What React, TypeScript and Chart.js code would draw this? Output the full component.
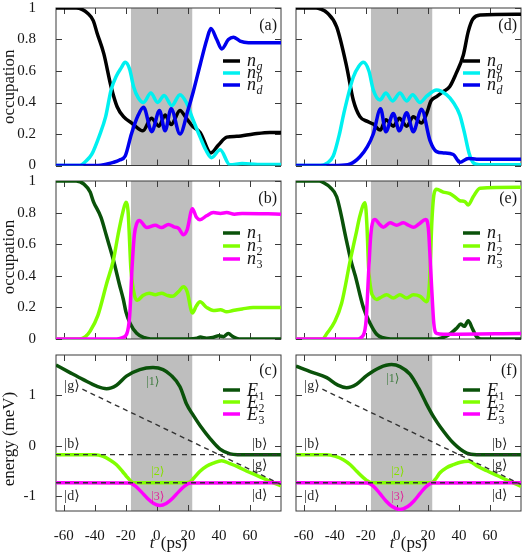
import { useEffect, useRef } from 'react';
import { Chart, registerables } from 'chart.js';

Chart.register(...registerables);

// ---------------------------------------------------------------- axes
const T_MIN = -65;
const T_MAX = 80;
const TIME_TICKS = [-60, -40, -20, 0, 20, 40, 60];
const OCC_TICKS = [0, 0.2, 0.4, 0.6, 0.8, 1];
const ENERGY_TICKS = [-1, 0, 1];
const ENERGY_RANGE = [-1.3, 1.8];
const PULSE_WINDOW = [-16.7, 22.8];

// ---------------------------------------------------------------- (a) occupations, bare states
const aNgT = [-65, -52, -48, -45, -41, -38.5, -34.2, -29.5, -25.6, -21.5, -16, -9, -3.5, 1.3, 5.3, 9.2, 14.9, 19, 22.9, 27.9, 34.8, 39.7, 45.1, 51.5, 62.2, 72.9, 80];
const aNgV = [1, 1, 0.99, 0.97, 0.92, 0.84, 0.71, 0.5, 0.373, 0.31, 0.268, 0.22, 0.3, 0.25, 0.32, 0.26, 0.35, 0.3, 0.25, 0.21, 0.08, 0.13, 0.18, 0.185, 0.2, 0.21, 0.21];
const aNbT = [-65, -50, -46, -42, -37, -33, -29.5, -26, -23, -20.4, -17.5, -15, -12, -8.6, -3.9, 0.5, 4.7, 9.6, 14.9, 19, 22.9, 27.9, 31.5, 35.2, 40.8, 47, 55, 65, 80];
const aNbV = [0, 0, 0.025, 0.07, 0.19, 0.31, 0.48, 0.57, 0.62, 0.655, 0.61, 0.5, 0.43, 0.4, 0.46, 0.4, 0.445, 0.38, 0.45, 0.4, 0.3, 0.18, 0.1, 0.05, 0.1, 0.005, 0.012, 0.006, 0.006];
const aNdT = [-65, -38, -32, -28, -24, -20.4, -16.4, -12, -8.6, -3.3, 1.7, 5.3, 9.2, 14.9, 20, 23.5, 27.9, 32.2, 34.8, 38.6, 41.8, 46.1, 49.3, 53.6, 59, 70, 80];
const aNdV = [0, 0, 0.01, 0.02, 0.035, 0.06, 0.2, 0.32, 0.37, 0.215, 0.35, 0.22, 0.36, 0.2, 0.35, 0.47, 0.64, 0.8, 0.87, 0.8, 0.74, 0.8, 0.815, 0.79, 0.78, 0.78, 0.78];

// ---------------------------------------------------------------- (b) occupations, dressed states
const bN1T = [-65, -52, -47, -43, -40.9, -36, -32.4, -28, -24, -21.6, -19.9, -17.3, -13, -8, -4, 20, 26, 28, 32, 36, 40, 43, 46, 49, 53, 80];
const bN1V = [1, 1, 0.98, 0.93, 0.87, 0.77, 0.65, 0.5, 0.34, 0.25, 0.17, 0.1, 0.036, 0.008, 0, 0, 0.005, 0.012, 0.005, 0.01, 0.02, 0.015, 0.035, 0.015, 0, 0];
const bN2T = [-65, -50, -46, -43, -38, -32.4, -28, -25, -22, -19.9, -18.5, -16.7, -14.5, -12.6, -9, -5, -1, 3, 7, 10, 14, 17.1, 19.5, 22.9, 25.5, 27.8, 32, 36.4, 41, 45, 49, 55, 62, 80];
const bN2V = [0, 0, 0.015, 0.05, 0.15, 0.35, 0.5, 0.66, 0.8, 0.865, 0.8, 0.44, 0.28, 0.245, 0.275, 0.29, 0.28, 0.29, 0.275, 0.27, 0.3, 0.33, 0.3, 0.165, 0.21, 0.235, 0.2, 0.18, 0.185, 0.172, 0.18, 0.19, 0.2, 0.2];
const bN3T = [-65, -26, -22, -19.5, -17.5, -16, -14.5, -13, -11.3, -6.5, -1, 3, 7.5, 11, 14, 17.1, 19.5, 22.9, 25.5, 27.8, 32, 36.4, 41, 45, 50, 55, 80];
const bN3V = [0, 0, 0.01, 0.03, 0.15, 0.45, 0.66, 0.73, 0.75, 0.705, 0.72, 0.705, 0.725, 0.71, 0.7, 0.66, 0.69, 0.825, 0.77, 0.755, 0.78, 0.8, 0.795, 0.8, 0.79, 0.795, 0.79];

// ---------------------------------------------------------------- (c) energies
const cE1T = [-65, -56, -47.4, -38.8, -32.4, -26, -19.6, -11, -2.5, 4, 9, 14.9, 19.2, 23.5, 27.8, 34.3, 40.7, 47.2, 52, 80];
const cE1V = [1.6, 1.45, 1.31, 1.18, 1.13, 1.2, 1.38, 1.51, 1.55, 1.51, 1.4, 1.17, 0.82, 0.6, 0.4, 0.14, -0.07, -0.165, -0.18, -0.18];
const cE2T = [-65, -40, -35, -30, -26, -22, -19.6, -17, -15, 19.2, 21.5, 24, 27.8, 32, 36.4, 41.7, 47.2, 52, 58, 65, 72, 80];
const cE2V = [-0.18, -0.18, -0.21, -0.29, -0.38, -0.52, -0.61, -0.7, -0.74, -0.74, -0.72, -0.64, -0.51, -0.41, -0.35, -0.3, -0.36, -0.42, -0.51, -0.6, -0.7, -0.8];
const cE3T = [-65, -18, -14, -10, -6, -2, 2, 6, 10, 14, 18, 22, 80];
const cE3V = [-0.74, -0.745, -0.8, -0.92, -1.05, -1.15, -1.19, -1.15, -1.05, -0.92, -0.8, -0.745, -0.74];

// ---------------------------------------------------------------- (d) occupations, bare states
const dNgT = [-65, -52, -49.5, -45, -38.8, -32.4, -28.1, -23.8, -19, -15.2, -10.7, -7.1, -2.3, 1.6, 6.3, 10.6, 15.9, 19.2, 22, 26, 30, 34, 38, 42.8, 46, 49, 54, 80];
const dNgV = [1, 1, 0.995, 0.97, 0.88, 0.63, 0.416, 0.31, 0.28, 0.263, 0.225, 0.29, 0.25, 0.3, 0.25, 0.31, 0.27, 0.33, 0.41, 0.44, 0.47, 0.5, 0.58, 0.7, 0.85, 0.93, 0.955, 0.96];
const dNbT = [-65, -49, -45, -41, -37, -34.2, -28.1, -24.5, -21.6, -18, -15.2, -10.9, -7.1, -2.8, 2, 6.3, 10.2, 14.9, 19.2, 25.6, 32, 36.4, 40.6, 43.5, 46.5, 49.5, 53, 80];
const dNbV = [0, 0, 0.015, 0.06, 0.2, 0.33, 0.56, 0.63, 0.655, 0.6, 0.48, 0.416, 0.46, 0.41, 0.46, 0.41, 0.45, 0.4, 0.44, 0.48, 0.45, 0.4, 0.32, 0.21, 0.08, 0.015, 0.005, 0.005];
const dNdT = [-65, -38, -30, -23.8, -19, -15.2, -10.5, -7.1, -2.3, 1.6, 6.3, 10.6, 15.9, 21.3, 25.6, 30, 36.4, 40.6, 46, 51.4, 80];
const dNdV = [0, 0, 0.01, 0.056, 0.12, 0.2, 0.36, 0.215, 0.33, 0.22, 0.335, 0.215, 0.357, 0.16, 0.088, 0.08, 0.07, 0.02, 0.045, 0.04, 0.04];

// ---------------------------------------------------------------- (e) occupations, dressed states
const eN1T = [-65, -50, -47.4, -43, -38.8, -32.4, -29.7, -26.8, -21.6, -17.3, -13, -9, -4, 26, 30, 34, 38.5, 41.2, 43.5, 46, 48.5, 51, 54, 80];
const eN1V = [1, 1, 0.99, 0.96, 0.9, 0.62, 0.5, 0.4, 0.2, 0.1, 0.03, 0.008, 0, 0, 0.01, 0.03, 0.068, 0.095, 0.08, 0.116, 0.07, 0.02, 0, 0];
const eN2T = [-65, -48, -45, -40, -35.6, -30, -26, -23.8, -20.5, -19.3, -18.2, -16.5, -15, -13, -10.9, -6.6, -2.3, 2, 6.3, 10.6, 15, 19.2, 21, 22.6, 24, 25.6, 29.9, 34.2, 38.5, 40.6, 43.8, 46, 49.2, 53.6, 80];
const eN2V = [0, 0, 0.036, 0.11, 0.226, 0.5, 0.68, 0.78, 0.863, 0.72, 0.45, 0.3, 0.265, 0.25, 0.26, 0.28, 0.26, 0.28, 0.26, 0.28, 0.27, 0.236, 0.35, 0.75, 0.92, 0.947, 0.93, 0.92, 0.89, 0.875, 0.87, 0.848, 0.9, 0.954, 0.96];
const eN3T = [-65, -26, -21.6, -19.8, -18.2, -16.8, -14.1, -11.5, -8.7, -4.4, -0.1, 4.2, 7.5, 10.6, 14.5, 18.5, 20.3, 21.5, 22.4, 23.8, 25.6, 30, 80];
const eN3V = [0, 0, 0.025, 0.12, 0.42, 0.66, 0.757, 0.73, 0.707, 0.735, 0.72, 0.735, 0.72, 0.707, 0.73, 0.757, 0.7, 0.5, 0.33, 0.1, 0.036, 0.03, 0.035];

// ---------------------------------------------------------------- (f) energies
const fE1T = [-65, -55, -45.2, -38, -32.4, -26, -19.5, -11, -3.4, 2, 8.4, 14, 19.2, 23.5, 27.8, 36.4, 45, 51.4, 80];
const fE1V = [1.58, 1.46, 1.35, 1.2, 1.15, 1.22, 1.39, 1.55, 1.61, 1.57, 1.42, 1.14, 0.82, 0.58, 0.38, 0.05, -0.15, -0.18, -0.18];
const fE2T = [-65, -45.2, -40, -34.5, -30, -25.9, -19.5, -16.3, 22.4, 25, 27.8, 32, 36.4, 41, 46, 49, 52, 58, 65, 72, 80];
const fE2V = [-0.18, -0.18, -0.21, -0.28, -0.38, -0.51, -0.69, -0.74, -0.74, -0.66, -0.54, -0.44, -0.38, -0.33, -0.31, -0.35, -0.41, -0.5, -0.6, -0.7, -0.81];
const fE3T = [-65, -19, -15, -11, -7, -3, 2, 7, 11, 15, 19, 23, 80];
const fE3V = [-0.74, -0.745, -0.81, -0.95, -1.1, -1.21, -1.27, -1.21, -1.1, -0.95, -0.81, -0.745, -0.74];

// ---------------------------------------------------------------- bare-state reference levels (meV)
const LEVEL_B = -0.18;
const LEVEL_D = -0.74;
const LEVEL_G_T = [-48, 80];
const LEVEL_G_E = [1.12, -0.77];

// ---------------------------------------------------------------- styling
const W = 523;
const H = 555;
const SERIF = '"Liberation Serif", "DejaVu Serif", serif';
const TEXT = '#161616';
const FRAME = '#3a3a3a';
const BAND = '#bebebe';
const TICK_LEN = 6;
const Y_AXIS_W = 56;
const COL_X = [[56, 281], [296, 521]];
const ROW_Y = [[8, 165.5], [181, 339], [355, 511]];
const LINE_W = 3.5;

const C_G = '#000000';
const C_B = '#00f0f0';
const C_D = '#0000ee';
const C_1 = '#0a520a';
const C_2 = '#80ff00';
const C_3 = '#ff00ff';
const C_DASH = '#333333';

type Series = { t: number[]; v: number[]; color: string; dash?: number[]; width?: number };
type LegendItem = { main: string; sub: string; subItalic: boolean; color: string };
type Ket = { text: string; t: number; e: number; color: string; size: number };
type Panel = {
  col: number;
  row: number;
  tag: string;
  yRange: number[];
  yTicks: number[];
  series: Series[];
  legend: LegendItem[];
  legendTop: number;
  legendGap: number;
  tagOffset: number;
  yTitle?: string;
  yTitleShift?: number;
  kets?: Ket[];
};

const occLegendBare: LegendItem[] = [
  { main: 'n', sub: 'g', subItalic: true, color: C_G },
  { main: 'n', sub: 'b', subItalic: true, color: C_B },
  { main: 'n', sub: 'd', subItalic: true, color: C_D },
];
const occLegendDressed: LegendItem[] = [
  { main: 'n', sub: '1', subItalic: false, color: C_1 },
  { main: 'n', sub: '2', subItalic: false, color: C_2 },
  { main: 'n', sub: '3', subItalic: false, color: C_3 },
];
const energyLegend: LegendItem[] = [
  { main: 'E', sub: '1', subItalic: false, color: C_1 },
  { main: 'E', sub: '2', subItalic: false, color: C_2 },
  { main: 'E', sub: '3', subItalic: false, color: C_3 },
];

function levelSeries(): Series[] {
  return [
    { t: [T_MIN, T_MAX], v: [LEVEL_B, LEVEL_B], color: C_DASH, dash: [5, 4], width: 1.4 },
    { t: [T_MIN, T_MAX], v: [LEVEL_D, LEVEL_D], color: C_DASH, dash: [5, 4], width: 1.4 },
    { t: LEVEL_G_T, v: LEVEL_G_E, color: C_DASH, dash: [5, 4], width: 1.4 },
  ];
}

function kets(e1Label: number): Ket[] {
  const grey = '#2a2a2a';
  return [
    { text: '|g\u27E9', t: -54.7, e: 1.17, color: grey, size: 14 },
    { text: '|b\u27E9', t: -54.7, e: 0.03, color: grey, size: 14 },
    { text: '|d\u27E9', t: -54.7, e: -1.0, color: grey, size: 14 },
    { text: '|b\u27E9', t: 66.4, e: 0.02, color: grey, size: 14 },
    { text: '|g\u27E9', t: 66.4, e: -0.39, color: grey, size: 14 },
    { text: '|d\u27E9', t: 66.4, e: -0.98, color: grey, size: 14 },
    { text: '|1\u27E9', t: -2.5, e: e1Label, color: '#3d7a3d', size: 12 },
    { text: '|2\u27E9', t: 0.7, e: -0.52, color: '#86e000', size: 12 },
    { text: '|3\u27E9', t: 0.7, e: -1.02, color: '#e0209a', size: 12 },
  ];
}

const PANELS: Panel[] = [
  {
    col: 0, row: 0, tag: '(a)', yRange: [0, 1], yTicks: OCC_TICKS,
    series: [
      { t: aNgT, v: aNgV, color: C_G },
      { t: aNbT, v: aNbV, color: C_B },
      { t: aNdT, v: aNdV, color: C_D },
    ],
    legend: occLegendBare, legendTop: 53, legendGap: 12, tagOffset: 18,
    yTitle: 'occupation', yTitleShift: 0,
  },
  {
    col: 0, row: 1, tag: '(b)', yRange: [0, 1], yTicks: OCC_TICKS,
    series: [
      { t: bN1T, v: bN1V, color: C_1 },
      { t: bN2T, v: bN2V, color: C_2 },
      { t: bN3T, v: bN3V, color: C_3 },
    ],
    legend: occLegendDressed, legendTop: 52, legendGap: 13, tagOffset: 18,
    yTitle: 'occupation', yTitleShift: -3,
  },
  {
    col: 0, row: 2, tag: '(c)', yRange: ENERGY_RANGE, yTicks: ENERGY_TICKS,
    series: [
      { t: cE1T, v: cE1V, color: C_1 },
      { t: cE2T, v: cE2V, color: C_2 },
      { t: cE3T, v: cE3V, color: C_3 },
      ...levelSeries(),
    ],
    legend: energyLegend, legendTop: 35, legendGap: 12, tagOffset: 16,
    yTitle: 'energy (meV)', yTitleShift: 6,
    kets: kets(1.27),
  },
  {
    col: 1, row: 0, tag: '(d)', yRange: [0, 1], yTicks: OCC_TICKS,
    series: [
      { t: dNgT, v: dNgV, color: C_G },
      { t: dNbT, v: dNbV, color: C_B },
      { t: dNdT, v: dNdV, color: C_D },
    ],
    legend: occLegendBare, legendTop: 53, legendGap: 12, tagOffset: 18,
  },
  {
    col: 1, row: 1, tag: '(e)', yRange: [0, 1], yTicks: OCC_TICKS,
    series: [
      { t: eN1T, v: eN1V, color: C_1 },
      { t: eN2T, v: eN2V, color: C_2 },
      { t: eN3T, v: eN3V, color: C_3 },
    ],
    legend: occLegendDressed, legendTop: 52, legendGap: 13, tagOffset: 18,
  },
  {
    col: 1, row: 2, tag: '(f)', yRange: ENERGY_RANGE, yTicks: ENERGY_TICKS,
    series: [
      { t: fE1T, v: fE1V, color: C_1 },
      { t: fE2T, v: fE2V, color: C_2 },
      { t: fE3T, v: fE3V, color: C_3 },
      ...levelSeries(),
    ],
    legend: energyLegend, legendTop: 35, legendGap: 12, tagOffset: 16,
    kets: kets(1.33),
  },
];

function decorations(p: Panel) {
  return {
    id: 'decor' + p.col + p.row,
    beforeDatasetsDraw(chart: any) {
      const { ctx, chartArea: a, scales } = chart;
      const xs = scales.x;
      const ys = scales.y;
      ctx.save();
      // pulse window
      const bx0 = xs.getPixelForValue(PULSE_WINDOW[0]);
      const bx1 = xs.getPixelForValue(PULSE_WINDOW[1]);
      ctx.fillStyle = BAND;
      ctx.fillRect(bx0, a.top, bx1 - bx0, a.bottom - a.top);
      // frame with inward mirrored ticks
      ctx.strokeStyle = FRAME;
      ctx.lineWidth = 1;
      ctx.strokeRect(a.left, a.top, a.right - a.left, a.bottom - a.top);
      ctx.beginPath();
      for (const v of TIME_TICKS) {
        const px = Math.round(xs.getPixelForValue(v)) + 0.5;
        ctx.moveTo(px, a.bottom);
        ctx.lineTo(px, a.bottom - TICK_LEN);
        ctx.moveTo(px, a.top);
        ctx.lineTo(px, a.top + TICK_LEN);
      }
      for (const v of p.yTicks) {
        const py = Math.round(ys.getPixelForValue(v)) + 0.5;
        ctx.moveTo(a.left, py);
        ctx.lineTo(a.left + TICK_LEN, py);
        ctx.moveTo(a.right, py);
        ctx.lineTo(a.right - TICK_LEN, py);
      }
      ctx.stroke();
      ctx.restore();
    },
    afterDatasetsDraw(chart: any) {
      const { ctx, chartArea: a, scales } = chart;
      const xs = scales.x;
      const ys = scales.y;
      ctx.save();

      // state labels
      if (p.kets) {
        ctx.textAlign = 'center';
        ctx.textBaseline = 'middle';
        for (const k of p.kets) {
          ctx.font = `${k.size}px ${SERIF}`;
          ctx.fillStyle = k.color;
          ctx.fillText(k.text, xs.getPixelForValue(k.t), ys.getPixelForValue(k.e));
        }
      }

      // legend
      const lx0 = a.left + 167;
      const lx1 = a.left + 184;
      const tx = a.left + 191;
      p.legend.forEach((it, i) => {
        const y = a.top + p.legendTop + i * p.legendGap;
        ctx.strokeStyle = it.color;
        ctx.lineWidth = LINE_W;
        ctx.beginPath();
        ctx.moveTo(lx0, y);
        ctx.lineTo(lx1, y);
        ctx.stroke();
        const isCap = it.main === 'E';
        const base = y + (isCap ? 6 : 4.5);
        ctx.fillStyle = TEXT;
        ctx.textAlign = 'left';
        ctx.textBaseline = 'alphabetic';
        ctx.font = `italic 18px ${SERIF}`;
        ctx.fillText(it.main, tx, base);
        const w = ctx.measureText(it.main).width;
        ctx.font = `${it.subItalic ? 'italic ' : ''}12px ${SERIF}`;
        ctx.fillText(it.sub, tx + w + 0.5, base + 4);
      });

      // panel tag
      ctx.fillStyle = TEXT;
      ctx.font = `16px ${SERIF}`;
      ctx.textAlign = 'right';
      ctx.textBaseline = 'middle';
      ctx.fillText(p.tag, a.right - 4, a.top + p.tagOffset);

      // y title
      if (p.yTitle) {
        ctx.save();
        ctx.translate(10, (a.top + a.bottom) / 2 + (p.yTitleShift || 0));
        ctx.rotate(-Math.PI / 2);
        ctx.font = `17px ${SERIF}`;
        ctx.textAlign = 'center';
        ctx.textBaseline = 'middle';
        ctx.fillText(p.yTitle, 0, 0);
        ctx.restore();
      }

      // x title
      if (p.row === 2) {
        ctx.font = `italic 17px ${SERIF}`;
        const wt = ctx.measureText('t').width + 2;
        ctx.font = `17px ${SERIF}`;
        const wr = ctx.measureText(' (ps)').width;
        const x0 = (a.left + a.right) / 2 - (wt + wr) / 2;
        ctx.textAlign = 'left';
        ctx.textBaseline = 'alphabetic';
        ctx.font = `italic 17px ${SERIF}`;
        ctx.fillText('t', x0, 548);
        ctx.font = `17px ${SERIF}`;
        ctx.fillText(' (ps)', x0 + wt, 548);
      }
      ctx.restore();
    },
  };
}

function buildConfig(p: Panel): any {
  const [x0, x1] = COL_X[p.col];
  const [y0, y1] = ROW_Y[p.row];
  const bottomRow = p.row === 2;
  const xAxisH = bottomRow ? H - y1 : 0;
  const n = p.series.length;
  const tickFont = { family: SERIF, size: 15 };
  return {
    type: 'line',
    data: {
      datasets: p.series.map((s, i) => ({
        data: s.t.map((t, k) => ({ x: t, y: s.v[k] })),
        borderColor: s.color,
        borderWidth: s.width ?? LINE_W,
        borderDash: s.dash ?? [],
        pointRadius: 0,
        fill: false,
        cubicInterpolationMode: s.dash ? 'default' : 'monotone',
        tension: 0,
        order: n - i,
      })),
    },
    options: {
      animation: false,
      responsive: false,
      events: [],
      layout: {
        autoPadding: false,
        padding: { left: x0 - Y_AXIS_W, right: W - x1, top: y0, bottom: H - y1 - xAxisH },
      },
      scales: {
        x: {
          type: 'linear',
          min: T_MIN,
          max: T_MAX,
          afterBuildTicks: (s: any) => {
            s.ticks = TIME_TICKS.map((v) => ({ value: v }));
          },
          afterFit: (s: any) => {
            s.height = xAxisH;
            s.paddingLeft = 0;
            s.paddingRight = 0;
          },
          grid: { display: false },
          border: { display: false },
          ticks: {
            display: bottomRow,
            padding: 8,
            color: TEXT,
            font: tickFont,
            maxRotation: 0,
            autoSkip: false,
            callback: (v: number) => String(v),
          },
        },
        y: {
          type: 'linear',
          min: p.yRange[0],
          max: p.yRange[1],
          afterBuildTicks: (s: any) => {
            s.ticks = p.yTicks.map((v) => ({ value: v }));
          },
          afterFit: (s: any) => {
            s.width = Y_AXIS_W;
            s.paddingTop = 0;
            s.paddingBottom = 0;
          },
          grid: { display: false },
          border: { display: false },
          ticks: {
            display: p.col === 0,
            padding: 12,
            color: TEXT,
            font: tickFont,
            autoSkip: false,
            callback: (v: number) => String(v),
          },
        },
      },
      plugins: { legend: { display: false }, tooltip: { enabled: false } },
    },
    plugins: [decorations(p)],
  };
}

export default function App() {
  const refs = useRef<(HTMLCanvasElement | null)[]>([]);

  useEffect(() => {
    const charts = PANELS.map((p, i) => new Chart(refs.current[i] as HTMLCanvasElement, buildConfig(p)));
    return () => charts.forEach((c) => c.destroy());
  }, []);

  return (
    <div style={{ position: 'absolute', left: 0, top: 0, width: W, height: H, background: '#ffffff' }}>
      {PANELS.map((p, i) => (
        <canvas
          key={p.tag}
          ref={(el) => {
            refs.current[i] = el;
          }}
          width={W}
          height={H}
          style={{ position: 'absolute', left: 0, top: 0, width: W, height: H }}
        />
      ))}
    </div>
  );
}
